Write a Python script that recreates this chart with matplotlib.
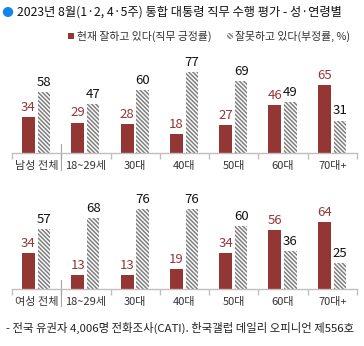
import matplotlib
matplotlib.use('Agg')
import matplotlib.pyplot as plt
from matplotlib.patches import Rectangle, Circle

plt.rcParams['font.family'] = ['Noto Sans CJK KR', 'DejaVu Sans']
plt.rcParams['hatch.linewidth'] = 1.1

male_labels = ['남성 전체', '18~29세', '30대', '40대', '50대', '60대', '70대+']
female_labels = ['여성 전체', '18~29세', '30대', '40대', '50대', '60대', '70대+']
male_pos = [34, 29, 28, 18, 27, 46, 65]
male_neg = [58, 47, 60, 77, 69, 49, 31]
female_pos = [34, 13, 13, 19, 34, 56, 64]
female_neg = [57, 68, 76, 76, 60, 36, 25]

RED = '#943634'
HATCH = '#7f7f7f'
HP = '\\' * 8
W, H = 364, 346

fig = plt.figure(figsize=(W / 100, H / 100), dpi=100)

def px_axes(left, base, width, height):
    return fig.add_axes([left / W, (H - base) / H, width / W, height / H])

def panel(ax, labels, pos, neg):
    x = list(range(len(labels)))
    xr = [i - 0.165 for i in x]
    xh = [i + 0.15 for i in x]
    ax.bar(xr, pos, width=0.265, color=RED, linewidth=0)
    ax.bar(xh, neg, width=0.25, color='white', edgecolor=HATCH,
           hatch=HP, linewidth=0)
    for a, b, v in zip(xr, pos, pos):
        ax.text(a, b + 3, str(v), ha='center', va='bottom', color=RED, fontsize=9.5)
    for a, b, v in zip(xh, neg, neg):
        ax.text(a, b + 3, str(v), ha='center', va='bottom', color='#111111', fontsize=9.5)
    ax.set_xlim(-0.5, len(labels) - 0.5)
    ax.set_ylim(0, 85)
    for s in ['top', 'right', 'left']:
        ax.spines[s].set_visible(False)
    ax.spines['bottom'].set_color('#bfbfbf')
    ax.spines['bottom'].set_linewidth(1)
    ax.set_yticks([])
    ax.set_xticks([i - 0.5 for i in range(len(labels) + 1)], minor=False)
    ax.set_xticklabels([])
    ax.tick_params(axis='x', length=4, color='#bfbfbf', width=1)
    ax.set_xticks(x, minor=True)
    ax.set_xticklabels(labels, minor=True, fontsize=8, color='#333333')
    ax.tick_params(axis='x', which='minor', length=0, pad=6)
    ax.axvline(0.5, ymin=-0.19, ymax=0.1, color='#a6a6a6', lw=0.8, clip_on=False)

ax1 = px_axes(12, 153, 345, 89)
panel(ax1, male_labels, male_pos, male_neg)
ax2 = px_axes(12, 289, 345, 89)
panel(ax2, female_labels, female_pos, female_neg)

# title
fig.add_artist(Circle((8 / W, (H - 12) / H), 4.5 / W, transform=fig.transFigure,
                      color='#0f86e8'))
fig.text(17 / W, (H - 12) / H, '2023년 8월(1·2, 4·5주) 통합 대통령 직무 수행 평가 - 성·연령별',
         fontsize=8.8, va='center', ha='left', color='#111111')

# legend
fig.add_artist(Rectangle((68 / W, (H - 39) / H), 6 / W, 6 / H, transform=fig.transFigure,
                         color=RED, lw=0))
fig.text(77 / W, (H - 36) / H, '현재 잘하고 있다(직무 긍정률)', fontsize=7.8,
         va='center', ha='left', color='#333333')
fig.add_artist(Rectangle((227 / W, (H - 39) / H), 6 / W, 6 / H, transform=fig.transFigure,
                         facecolor='white', edgecolor=HATCH, hatch=HP, lw=0))
fig.text(235 / W, (H - 36) / H, '잘못하고 있다(부정률, %)', fontsize=7.8,
         va='center', ha='left', color='#333333')

# footnote
fig.text(6 / W, (H - 328) / H, '- 전국 유권자 4,006명 전화조사(CATI). 한국갤럽 데일리 오피니언 제556호',
         fontsize=8.2, va='center', ha='left', color='#222222')

fig.savefig('out.png', dpi=100)
